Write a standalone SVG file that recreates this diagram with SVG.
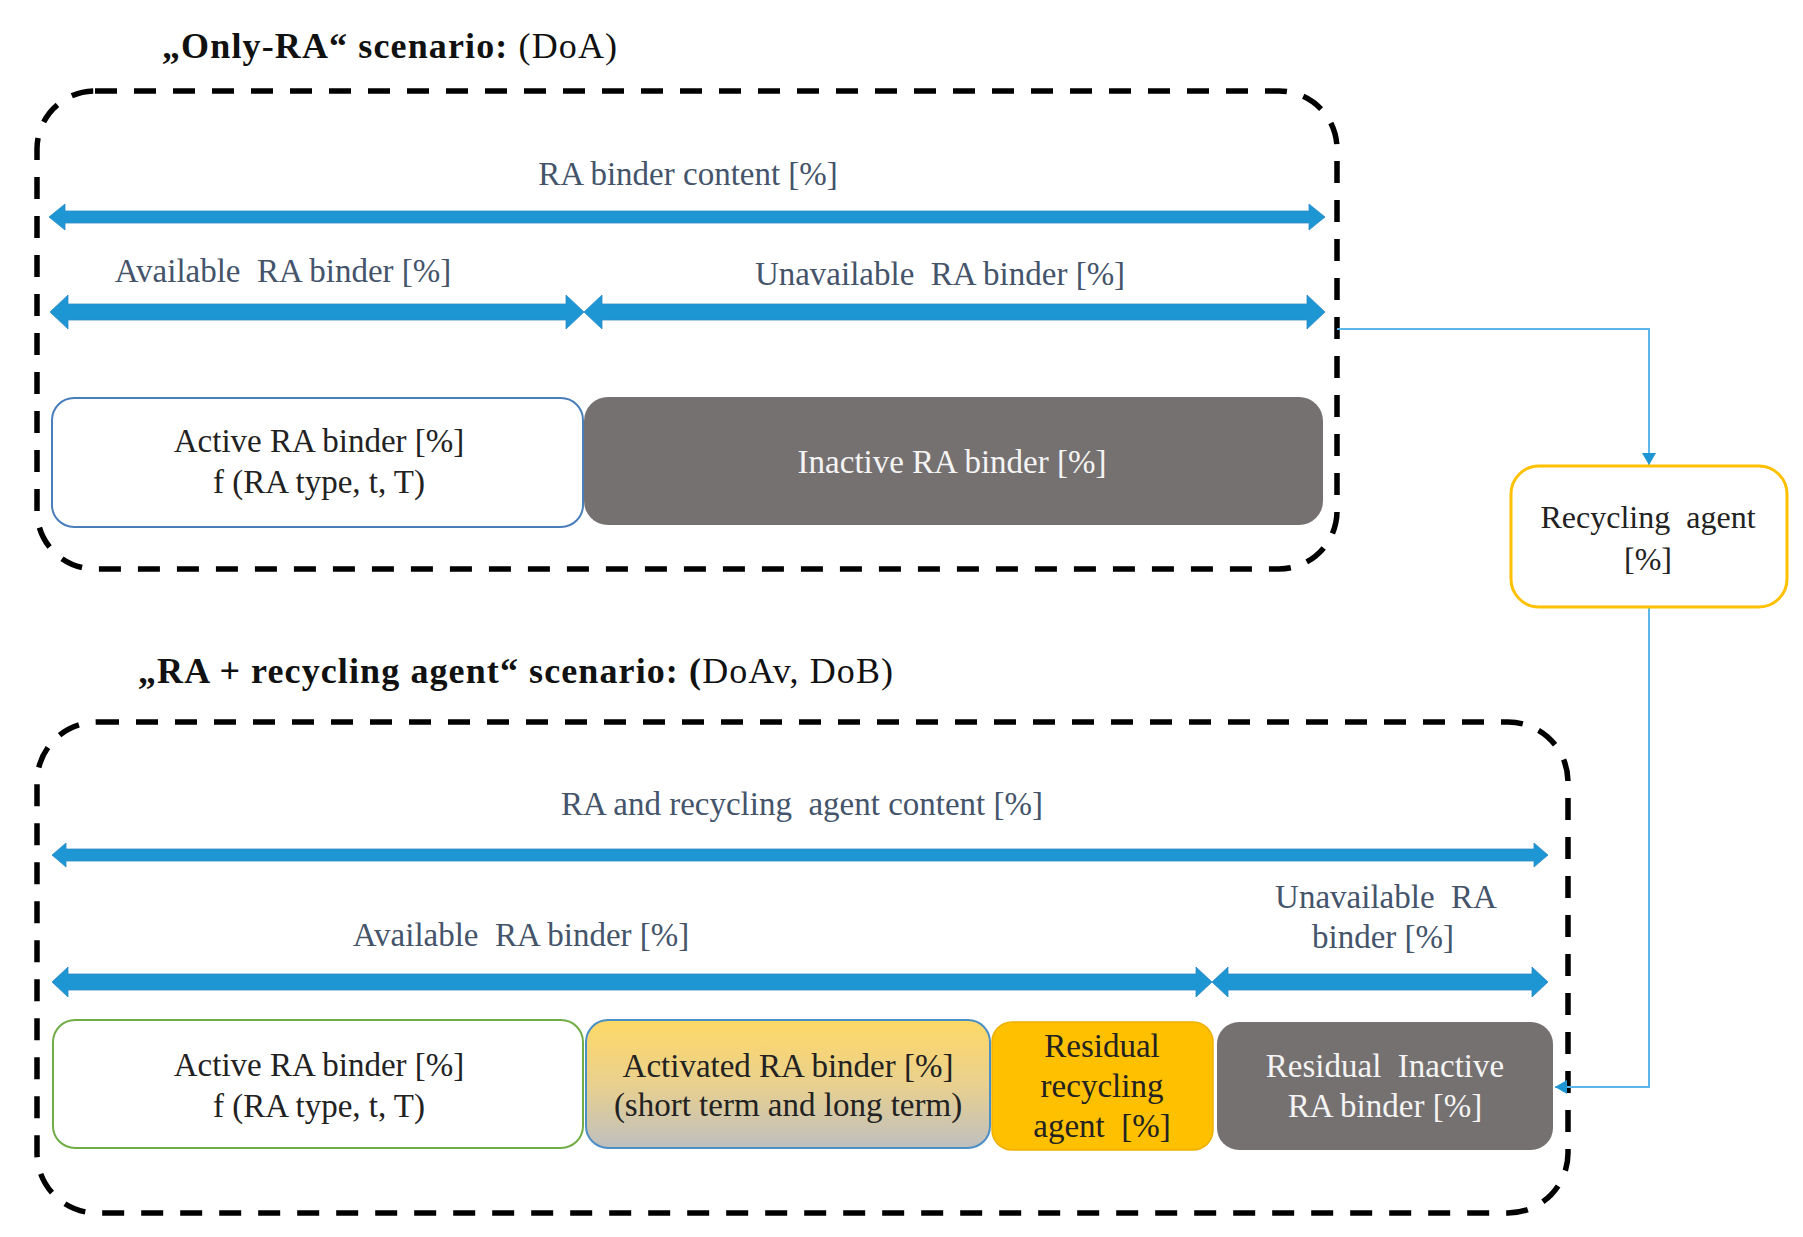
<svg xmlns="http://www.w3.org/2000/svg" width="1803" height="1237" viewBox="0 0 1803 1237" xml:space="preserve">
<style>
.t{font-family:"Liberation Serif","Times New Roman",serif;white-space:pre;}
.title{font-size:36px;fill:#111;}
.lbl{font-size:33px;fill:#44546a;text-anchor:middle;}
.blk{font-size:33px;fill:#222;text-anchor:middle;}
.wht{font-size:33px;fill:#f4f4f4;text-anchor:middle;}
.dash{fill:none;stroke:#000;stroke-width:5.5;stroke-dasharray:22 17;}
.arr{fill:#1f96d4;stroke:#2a8ac4;stroke-width:0.8;}
.con{fill:none;stroke:#5db6ea;stroke-width:2;}
.gray{fill:#767171;}
</style>
<defs>
<linearGradient id="gAct" x1="0" y1="0" x2="0" y2="1">
<stop offset="0" stop-color="#ffd966"/>
<stop offset="0.5" stop-color="#e9d08e"/>
<stop offset="1" stop-color="#bfbfbf"/>
</linearGradient>
<marker id="ah" markerUnits="userSpaceOnUse" markerWidth="14" markerHeight="14" refX="12" refY="7" orient="auto">
<path d="M0,0 L12,7 L0,14 z" fill="#1f96d4"/>
</marker>
</defs>
<rect width="1803" height="1237" fill="#fff"/>

<g id="titles">
<text class="t title" x="162" y="58" textLength="455"><tspan font-weight="bold">„Only-RA“ scenario: </tspan>(DoA)</text>
<text class="t title" x="138" y="683" textLength="755"><tspan font-weight="bold">„RA + recycling agent“ scenario: (</tspan>DoAv, DoB)</text>
</g>

<g id="scenario-frames">
<rect id="frame-only-ra" class="dash" x="37" y="91" width="1300" height="478" rx="58"/>
<rect id="frame-ra-recycling" class="dash" x="37" y="722" width="1531" height="491" rx="60"/>
</g>

<g id="range-arrows">
<polygon class="arr" points="49,217 65,204 65,211 1309,211 1309,204 1325,217 1309,230 1309,223 65,223 65,230"/>
<polygon class="arr" points="50,312 68,295 68,304 566,304 566,295 584,312 566,329 566,320 68,320 68,329"/>
<polygon class="arr" points="584,312 602,295 602,304 1307,304 1307,295 1325,312 1307,329 1307,320 602,320 602,329"/>
<polygon class="arr" points="52,855 66,843 66,849 1534,849 1534,843 1548,855 1534,867 1534,861 66,861 66,867"/>
<polygon class="arr" points="52,982 68,967 68,974 1196,974 1196,967 1212,982 1196,997 1196,990 68,990 68,997"/>
<polygon class="arr" points="1212,982 1228,967 1228,974 1532,974 1532,967 1548,982 1532,997 1532,990 1228,990 1228,997"/>
</g>

<g id="range-labels">
<text class="t lbl" x="688" y="185">RA binder content [%]</text>
<text class="t lbl" x="283" y="282">Available  RA binder [%]</text>
<text class="t lbl" x="940" y="285">Unavailable  RA binder [%]</text>
<text class="t lbl" x="802" y="815">RA and recycling  agent content [%]</text>
<text class="t lbl" x="521" y="946">Available  RA binder [%]</text>
<text class="t lbl" x="1386" y="908">Unavailable  RA</text>
<text class="t lbl" x="1383" y="948">binder [%]</text>
</g>

<g id="connectors">
<path class="con" d="M1337,329 H1649 V465" marker-end="url(#ah)"/>
<path class="con" d="M1649,607 V1087 H1555" marker-end="url(#ah)"/>
</g>

<g id="node-active-top">
<rect x="52" y="398" width="531" height="129" rx="22" fill="#fff" stroke="#4a7ebb" stroke-width="2"/>
<text class="t blk" x="319" y="452">Active RA binder [%]</text>
<text class="t blk" x="319" y="493">f (RA type, t, T)</text>
</g>

<g id="node-inactive-top">
<rect class="gray" x="584" y="397" width="739" height="128" rx="24"/>
<text class="t wht" x="952" y="473">Inactive RA binder [%]</text>
</g>

<g id="node-recycling-agent">
<rect x="1511" y="466" width="276" height="141" rx="28" fill="#fff" stroke="#ffc000" stroke-width="3"/>
<text class="t blk" x="1648" y="528" style="font-size:32px">Recycling  agent</text>
<text class="t blk" x="1648" y="570" style="font-size:32px">[%]</text>
</g>

<g id="node-active-bottom">
<rect x="53" y="1020" width="530" height="128" rx="22" fill="#fff" stroke="#70ad47" stroke-width="2"/>
<text class="t blk" x="319" y="1076">Active RA binder [%]</text>
<text class="t blk" x="319" y="1117">f (RA type, t, T)</text>
</g>

<g id="node-activated">
<rect x="586" y="1020" width="404" height="128" rx="22" fill="url(#gAct)" stroke="#4a8fc6" stroke-width="2"/>
<text class="t blk" x="788" y="1077">Activated RA binder [%]</text>
<text class="t blk" x="788" y="1116">(short term and long term)</text>
</g>

<g id="node-residual-recycling">
<rect x="992" y="1022" width="221" height="128" rx="20" fill="#ffc000" stroke="#eeb000" stroke-width="1.5"/>
<text class="t blk" x="1102" y="1057">Residual</text>
<text class="t blk" x="1102" y="1097">recycling</text>
<text class="t blk" x="1102" y="1137">agent  [%]</text>
</g>

<g id="node-residual-inactive">
<rect class="gray" x="1217" y="1022" width="336" height="128" rx="22"/>
<text class="t wht" x="1385" y="1077">Residual  Inactive</text>
<text class="t wht" x="1385" y="1117">RA binder [%]</text>
</g>
</svg>
